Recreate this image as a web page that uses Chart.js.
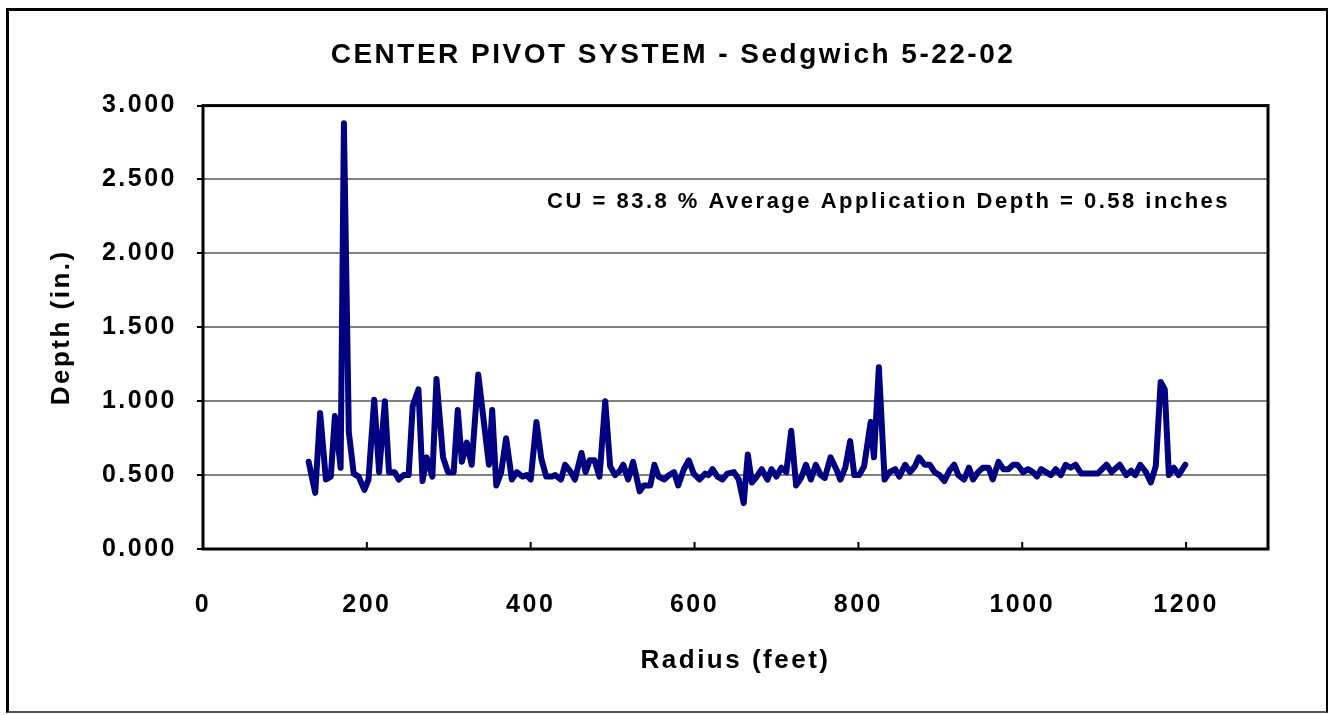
<!DOCTYPE html>
<html>
<head>
<meta charset="utf-8">
<title>Center Pivot System - Sedgwich</title>
<script src="https://cdn.jsdelivr.net/npm/chart.js@4.4.1/dist/chart.umd.min.js"></script>
<style>
    body { margin: 0; background: #fff; }
    #chartCanvas { position: absolute; left: 0; top: 0; }
    #frame {
        position: absolute; left: 6px; top: 8px; width: 1317px; height: 700px;
        border-left: 3px solid #000; border-top: 3px solid #000;
        border-right: 2px solid #000; border-bottom: 2px solid #555;
        pointer-events: none;
    }
</style>
</head>
<body>
<canvas id="chartCanvas" width="1331" height="715"></canvas>
<div id="frame"></div>
<script>
const radius = [
    129, 137, 143, 150, 156, 161, 168, 172, 178, 184, 190, 197, 202, 209, 215, 222, 227, 234, 239, 245,
    251, 256, 263, 268, 273, 280, 285, 293, 299, 306, 311, 316, 322, 328, 336, 349, 353, 358, 364, 370,
    377, 383, 390, 395, 400, 407, 413, 419, 426, 430, 437, 442, 449, 454, 462, 467, 472, 478, 484, 491,
    497, 503, 509, 513, 519, 525, 533, 538, 546, 551, 556, 563, 569, 575, 580, 587, 593, 599, 606, 613,
    617, 622, 628, 634, 640, 648, 654, 660, 665, 670, 676, 682, 689, 694, 700, 706, 712, 718, 724, 730,
    736, 742, 748, 754, 759, 766, 773, 778, 784, 790, 795, 801, 807, 815, 819, 825, 832, 838, 845, 850,
    857, 863, 869, 874, 881, 887, 893, 899, 905, 911, 917, 922, 929, 935, 940, 946, 952, 959, 964, 971,
    977, 983, 989, 994, 1001, 1007, 1013, 1018, 1023, 1029, 1035, 1041, 1047, 1053, 1059, 1065, 1072, 1080, 1092, 1103,
    1109, 1119, 1127, 1133, 1138, 1144, 1151, 1157, 1163, 1169, 1174, 1179, 1185, 1191, 1199
];
const depth = [
    0.59, 0.38, 0.92, 0.47, 0.49, 0.90, 0.55, 2.88, 0.79, 0.51, 0.49, 0.40, 0.47, 1.01, 0.52, 1.00, 0.52, 0.52, 0.47, 0.50,
    0.50, 0.97, 1.08, 0.46, 0.62, 0.49, 1.15, 0.62, 0.52, 0.52, 0.94, 0.59, 0.72, 0.57, 1.18, 0.57, 0.94, 0.43, 0.52, 0.75,
    0.47, 0.52, 0.49, 0.50, 0.47, 0.86, 0.61, 0.49, 0.49, 0.50, 0.47, 0.57, 0.52, 0.47, 0.65, 0.52, 0.60, 0.60, 0.49, 1.00,
    0.56, 0.50, 0.53, 0.57, 0.47, 0.59, 0.39, 0.43, 0.43, 0.57, 0.49, 0.47, 0.50, 0.52, 0.43, 0.54, 0.60, 0.51, 0.47, 0.51,
    0.50, 0.54, 0.49, 0.47, 0.51, 0.52, 0.47, 0.31, 0.64, 0.45, 0.49, 0.54, 0.47, 0.54, 0.49, 0.55, 0.52, 0.80, 0.43, 0.48,
    0.57, 0.47, 0.57, 0.50, 0.48, 0.62, 0.54, 0.47, 0.55, 0.73, 0.50, 0.50, 0.56, 0.86, 0.62, 1.23, 0.47, 0.52, 0.54, 0.49,
    0.57, 0.52, 0.56, 0.62, 0.57, 0.57, 0.52, 0.50, 0.46, 0.53, 0.57, 0.50, 0.47, 0.55, 0.47, 0.52, 0.55, 0.55, 0.47, 0.59,
    0.54, 0.54, 0.57, 0.57, 0.52, 0.54, 0.52, 0.49, 0.54, 0.52, 0.50, 0.54, 0.50, 0.57, 0.55, 0.57, 0.51, 0.51, 0.51, 0.57,
    0.52, 0.57, 0.50, 0.53, 0.50, 0.57, 0.52, 0.45, 0.56, 1.13, 1.08, 0.50, 0.55, 0.50, 0.57
];
const xTicks = [0, 200, 400, 600, 800, 1000, 1200];
const yTicks = [0, 0.5, 1.0, 1.5, 2.0, 2.5, 3.0];

const chartTitle = "CENTER PIVOT SYSTEM - Sedgwich 5-22-02";
const noteText = "CU = 83.8 % Average Application Depth = 0.58 inches";
const FONT = "'Liberation Sans', Arial, Helvetica, sans-serif";
const SPACING = "2.5px";

// spaced-out lettering like the original export
const letterSpacing = {
    id: 'letterSpacing',
    beforeUpdate(chart) { chart.ctx.letterSpacing = SPACING; },
    beforeDraw(chart) { chart.ctx.letterSpacing = SPACING; }
};

const plotFrame = {
    id: 'plotFrame',
    afterDraw(chart) {
        const { ctx, chartArea, scales } = chart;
        ctx.save();
        // small inward ticks on the x axis
        ctx.strokeStyle = "#000";
        ctx.lineWidth = 2;
        xTicks.forEach(v => {
            const px = scales.x.getPixelForValue(v);
            ctx.beginPath();
            ctx.moveTo(px, chartArea.bottom);
            ctx.lineTo(px, chartArea.bottom - 7);
            ctx.stroke();
        });
        ctx.lineWidth = 3;
        ctx.strokeRect(chartArea.left, chartArea.top, chartArea.right - chartArea.left, chartArea.bottom - chartArea.top);

        // note inside the plot
        ctx.letterSpacing = SPACING;
        ctx.fillStyle = "#000";
        ctx.font = `bold 22px ${FONT}`;
        ctx.textAlign = "left";
        ctx.textBaseline = "middle";
        ctx.fillText(noteText, scales.x.getPixelForValue(420), scales.y.getPixelForValue(2.35));
        ctx.restore();
    }
};

new Chart(document.getElementById("chartCanvas").getContext("2d"), {
    type: "line",
    data: {
        datasets: [{
            data: radius.map((r, i) => ({ x: r, y: depth[i] })),
            borderColor: "#000080",
            borderWidth: 6,
            pointRadius: 0,
            tension: 0,
            fill: false,
            borderJoinStyle: "round",
            borderCapStyle: "round"
        }]
    },
    options: {
        responsive: false,
        animation: false,
        layout: { padding: { left: 15, right: 0, top: 0, bottom: 0 } },
        plugins: {
            legend: { display: false },
            tooltip: { enabled: false },
            title: {
                display: true,
                text: chartTitle,
                color: "#000",
                font: { family: FONT, size: 28, weight: "bold", lineHeight: 1.2 },
                padding: { top: 38, bottom: 34 }
            }
        },
        scales: {
            x: {
                type: "linear",
                min: 0,
                max: 1300,
                afterFit: s => { s.height = 166; },
                afterBuildTicks: s => { s.ticks = xTicks.map(v => ({ value: v })); },
                ticks: {
                    color: "#000",
                    font: { family: FONT, size: 25, weight: "bold", lineHeight: 1.2 },
                    padding: 41,
                    maxRotation: 0,
                    callback: v => String(v)
                },
                grid: { display: true, drawOnChartArea: false, drawTicks: false },
                border: { display: false },
                title: {
                    display: true,
                    text: "Radius (feet)",
                    color: "#000",
                    font: { family: FONT, size: 26, weight: "bold", lineHeight: 1.2 },
                    padding: { top: 0, bottom: 39 }
                }
            },
            y: {
                min: 0,
                max: 3,
                afterFit: s => { s.width = 188; },
                afterBuildTicks: s => { s.ticks = yTicks.map(v => ({ value: v })); },
                ticks: {
                    color: "#000",
                    font: { family: FONT, size: 25, weight: "bold", lineHeight: 1.2 },
                    padding: 20,
                    callback: v => Number(v).toFixed(3)
                },
                grid: { color: "#808080", lineWidth: 2, tickLength: 6, tickColor: "#000", tickWidth: 2 },
                border: { display: false },
                title: {
                    display: true,
                    text: "Depth (in.)",
                    color: "#000",
                    font: { family: FONT, size: 26, weight: "bold", lineHeight: 1.2 },
                    padding: { top: 31, bottom: 0 }
                }
            },
            yRight: {
                position: "right",
                display: true,
                afterFit: s => { s.width = 63; },
                ticks: { display: false },
                grid: { display: false, drawTicks: false },
                border: { display: false }
            }
        }
    },
    plugins: [letterSpacing, plotFrame]
});
</script>
</body>
</html>
